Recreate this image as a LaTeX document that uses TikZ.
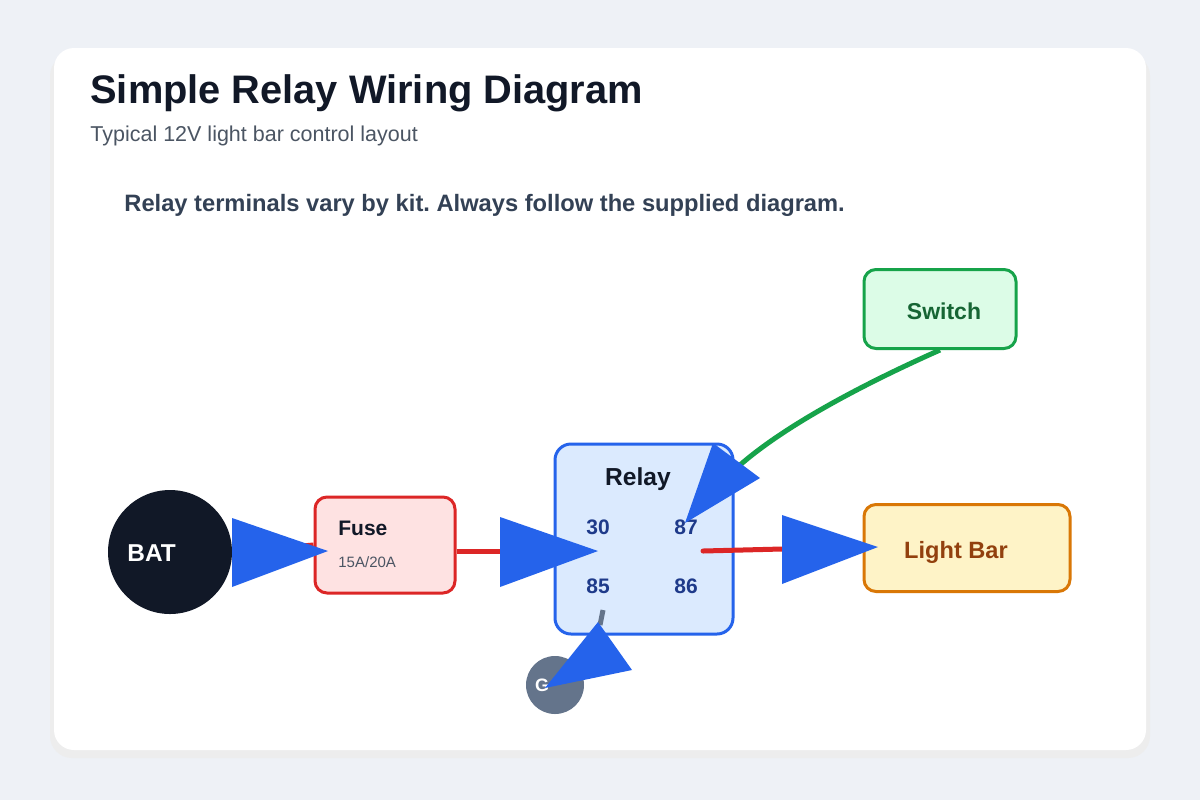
\documentclass[tikz,border=0pt]{standalone}
\usepackage{fontspec}
\setmainfont{Liberation Sans}
\frenchspacing
\begin{document}
\begin{tikzpicture}[x=0.5pt,y=-0.5pt,
  box/.style={draw,line width=1.5pt,rounded corners=6pt,inner sep=0pt},
  head/.style={fill=arrowblue},
  wire/.style={line width=2.5pt},
  term/.style={font=\bfseries\fontsize{10.5}{12}\selectfont,text=termc}]
\definecolor{bg}{HTML}{EEF1F6}
\definecolor{ink}{HTML}{111827}
\definecolor{sub}{HTML}{4B5563}
\definecolor{note}{HTML}{334155}
\definecolor{arrowblue}{HTML}{2563EB}
\definecolor{termc}{HTML}{1E3A8A}
\definecolor{wred}{HTML}{DC2626}
\definecolor{wgreen}{HTML}{16A34A}
\definecolor{gnd}{HTML}{64748B}
\definecolor{relayfill}{HTML}{DBEAFE}
\definecolor{fusefill}{HTML}{FEE2E2}
\definecolor{swfill}{HTML}{DCFCE7}
\definecolor{swtext}{HTML}{166534}
\definecolor{lbfill}{HTML}{FEF3C7}
\definecolor{lbdraw}{HTML}{D97706}
\definecolor{lbtext}{HTML}{92400E}
\fill[bg] (0,0) rectangle (1200,800);
\useasboundingbox (0,0) rectangle (1200,800);
\fill[black!7,rounded corners=11pt] (50,54) rectangle (1150,758);
\fill[white,rounded corners=10pt] (54,48) rectangle (1146,750);
\node[anchor=base west,font=\bfseries\fontsize{19.9}{22}\selectfont,text=ink,inner sep=0] (title) at (90,103) {Simple Relay Wiring Diagram};
\node[anchor=west,font=\fontsize{10.75}{12}\selectfont,text=sub,inner sep=0] (subt) at (90,136) {Typical 12V light bar control layout};
\node[anchor=west,font=\bfseries\fontsize{11.85}{13}\selectfont,text=note,inner sep=0] (notet) at (124,205) {Relay terminals vary by kit. Always follow the supplied diagram.};
% nodes
\node[circle,fill=ink,minimum size=62pt,inner sep=0] (bat) at (170,552) {};
\node[anchor=west,font=\bfseries\fontsize{12.2}{14}\selectfont,text=white,inner sep=0] (batt) at (127,553) {BAT};
\node[box,draw=wred,fill=fusefill,minimum width=70pt,minimum height=48pt] (fuse) at (385,545) {};
\node[anchor=west,font=\bfseries\fontsize{10.5}{12}\selectfont,text=ink,inner sep=0] (fuset) at (338,528) {Fuse};
\node[anchor=west,font=\fontsize{7.5}{9}\selectfont,text=sub,inner sep=0] (fuser) at (338,562) {15A/20A};
\node[box,draw=arrowblue,fill=relayfill,rounded corners=8pt,minimum width=89pt,minimum height=95pt] (relay) at (644,539) {};
\node[font=\bfseries\fontsize{12.3}{14}\selectfont,text=ink] (relayt) at (638,479) {Relay};
\node[term] (t30) at (598,527) {30};
\node[term] (t87) at (686,527) {87};
\node[term] (t85) at (598,586) {85};
\node[term] (t86) at (686,586) {86};
\node[box,draw=wgreen,fill=swfill,minimum width=76pt,minimum height=39.5pt] (sw) at (940,309) {};
\node[font=\bfseries\fontsize{11.5}{14}\selectfont,text=swtext] (swt) at (944,311) {Switch};
\node[box,draw=lbdraw,fill=lbfill,minimum width=103pt,minimum height=43.5pt] (lb) at (967,548) {};
\node[font=\bfseries\fontsize{11.8}{14}\selectfont,text=lbtext] (lbt) at (956,552) {Light Bar};
\node[circle,fill=gnd,minimum size=29pt,inner sep=0] (g) at (555,685) {};
\node[font=\bfseries\fontsize{9}{10}\selectfont,text=white] (gt) at (542,685) {G};
% connectors
\draw[wire,wred] (bat.east) -- (fuse.west);
\fill[head] (232,518) -- (328,551) -- (232,587) -- cycle;
\draw[wire,wred] (fuse.east |- 0,551) -- (500,551);
\fill[head] (500,517) -- (598,551) -- (500,587) -- cycle;
\draw[wire,wred,line cap=round] (703,551) -- (782,549);
\fill[head] (782,515) -- (878,547) -- (782,584) -- cycle;
\draw[wire,wgreen] (sw.south) .. controls (850,390) and (780,430) .. (740,465);
\fill[head] (713,443) -- (760,478) -- (685,523) -- cycle;
\draw[wire,gnd] (603,610) -- (600,625);
\fill[head] (598,622) -- (632,670) -- (545,688) -- cycle;
\end{tikzpicture}
\end{document}
